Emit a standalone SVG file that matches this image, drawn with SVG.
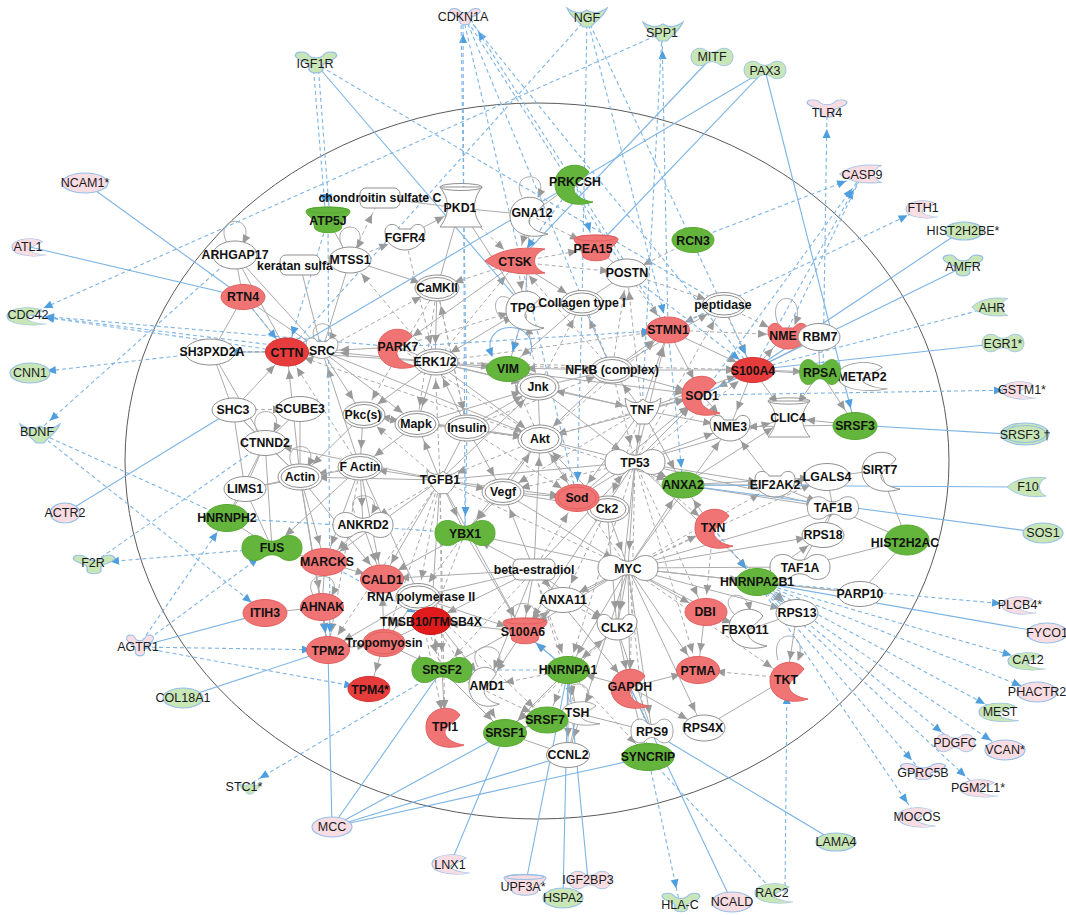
<svg xmlns="http://www.w3.org/2000/svg" width="1066" height="915" viewBox="0 0 1066 915">
<style>
.g,.gd,.gn,.gl,.b,.ba,.bd,.bdn,.bl{fill:none}
.g,.gd,.gn,.gl{stroke:#ababab;stroke-width:1}
.g,.gd{marker-end:url(#ga)}
.gl{marker-end:url(#gla)}
.gd{stroke-dasharray:4 3}
.b,.ba,.bd,.bdn,.bl{stroke:#7db4e4;stroke-width:1.1}
.ba,.bd{marker-end:url(#ba)}
.bl{marker-end:url(#bla)}
.bd,.bdn{stroke-dasharray:4 3}
.w{fill:#fff;stroke:#8f8f8f;stroke-width:1}
.r{fill:#f17474;stroke:#e26060;stroke-width:1}
.R{fill:#e73c3c;stroke:#d63030;stroke-width:1}
.RR{fill:#e11b1b;stroke:#cc1010;stroke-width:1}
.G{fill:#63b53b;stroke:#57a832;stroke-width:1}
.pk{fill:#fadde3;stroke:#96bfe8;stroke-width:1.2}
.lg{fill:#c8e6b6;stroke:#96bfe8;stroke-width:1.2}
.t{font-family:"Liberation Sans",Arial,sans-serif;font-size:12.3px;font-weight:bold;fill:#111;stroke:none;text-anchor:middle}
.o{font-family:"Liberation Sans",Arial,sans-serif;font-size:12.5px;fill:#1a1a1a;stroke:none;text-anchor:middle}
</style>
<defs>
<marker id="ga" markerUnits="userSpaceOnUse" markerWidth="10" markerHeight="8" refX="27" refY="4" orient="auto" overflow="visible"><path d="M0,0L9,4L0,8Z" fill="#9a9a9a"/></marker>
<marker id="gla" markerUnits="userSpaceOnUse" markerWidth="10" markerHeight="8" refX="8" refY="4" orient="auto" overflow="visible"><path d="M0,0L9,4L0,8Z" fill="#9a9a9a"/></marker>
<marker id="ba" markerUnits="userSpaceOnUse" markerWidth="10" markerHeight="8" refX="26" refY="4" orient="auto" overflow="visible"><path d="M0,0L9,4L0,8Z" fill="#4f9ede"/></marker>
<marker id="bla" markerUnits="userSpaceOnUse" markerWidth="10" markerHeight="8" refX="8" refY="4" orient="auto" overflow="visible"><path d="M0,0L9,4L0,8Z" fill="#4f9ede"/></marker>
<path id="pn" d="M-8,-9C-14,-15-30,-14-30,0C-30,14-14,15-8,9C-3,6 3,6 8,9C14,15 30,14 30,0C30,-14 14,-15 8,-9C3,-6-3,-6-8,-9Z"/>
<path id="enz" d="M14,-12C6,-24-20,-20-20,0C-20,18 0,24 18,18C4,16-4,8 0,2C2,-2 8,-4 14,-12Z"/>
<path id="pep" d="M-32,0C-20,-10 0,-15 28,-12C14,-7 14,7 28,12C0,15-20,10-32,0Z"/>
<g id="cup"><path d="M-22,-9C-22,-14 22,-14 22,-9C22,-5 16,-3 15,1L13,9C8,14-8,14-13,9L-15,1C-16,-3-22,-5-22,-9Z"/><ellipse cx="0" cy="-10" rx="20" ry="3" fill="none"/></g>
<g id="hg"><path d="M-21,-20L21,-20C11,-7 11,7 21,20L-21,20C-11,7-11,-7-21,-20Z"/><ellipse cx="0" cy="-20" rx="21" ry="3.5" fill="none"/></g>
<path id="kin" d="M-20,-5C-20,-14-9,-15-6,-8L6,-8C9,-15 20,-14 20,-5C20,6 10,13 0,13C-10,13-20,6-20,-5Z"/>
<path id="cyt" d="M-18,-13C-10,-7-5,-7 0,-12C5,-7 10,-7 18,-13C17,0 10,9 5,13L-5,13C-10,9-17,0-18,-13Z"/>
<path id="rec" d="M-18,-8C-18,-13-9,-14-6,-8C-3,-5 3,-5 6,-8C9,-14 18,-13 18,-8C16,-2 8,-2 6,2L6,8C4,12-4,12-6,8L-6,2C-8,-2-16,-2-18,-8Z"/>
<path id="gf" d="M-20,-9C-12,-3-6,-3 0,-7C6,-3 12,-3 20,-9C16,1 8,4 4,10L-4,10C-8,4-16,1-20,-9Z"/>
</defs>
<rect width="1066" height="915" fill="#fff"/>
<ellipse cx="537" cy="461" rx="412" ry="358" fill="none" stroke="#5a5a5a" stroke-width="1"/>
<g id="connectors">
<path class="g" d="M540 439L635 462"/><path class="gd" d="M628 568L540 439"/><path class="gd" d="M540 439L440 480"/><path class="g" d="M435 362L540 439"/><path class="g" d="M612 370L540 439"/><path class="gd" d="M417 424L540 439"/><path class="g" d="M467 428L540 439"/><path class="g" d="M503 492L540 439"/><path class="gd" d="M642 410L540 439"/><path class="g" d="M540 439L702 395"/><path class="gd" d="M540 439L668 330"/><path class="gd" d="M540 439L398 347"/><path class="g" d="M322 351L540 439"/><path class="gd" d="M540 439L287 352"/><path class="g" d="M540 439L465 533"/><path class="gd" d="M540 439L683 485"/><path class="g" d="M607 509L540 439"/><path class="g" d="M363 415L540 439"/><path class="gd" d="M540 439L508 368"/><path class="gn" d="M538 387L540 439"/><path class="g" d="M534 570L540 439"/><path class="g" d="M540 439L577 498"/>
<path class="g" d="M635 462L628 568"/><path class="g" d="M642 410L635 462"/><path class="g" d="M635 462L683 485"/><path class="gd" d="M635 462L713 528"/><path class="g" d="M635 462L775 485"/><path class="g" d="M635 462L730 427"/><path class="g" d="M635 462L788 418"/><path class="gd" d="M635 462L753 370"/><path class="g" d="M635 462L702 395"/><path class="gd" d="M635 462L705 612"/><path class="gd" d="M635 462L698 670"/><path class="g" d="M635 462L797 613"/><path class="gd" d="M635 462L630 687"/><path class="g" d="M635 462L617 628"/><path class="gd" d="M635 462L568 670"/><path class="g" d="M534 570L635 462"/><path class="gd" d="M635 462L503 492"/><path class="g" d="M440 480L635 462"/><path class="g" d="M538 387L635 462"/><path class="gd" d="M612 370L635 462"/><path class="g" d="M635 462L668 330"/><path class="gn" d="M577 498L635 462"/><path class="g" d="M635 462L523 632"/><path class="g" d="M635 462L833 508"/><path class="gd" d="M635 462L723 305"/>
<path class="g" d="M628 568L563 600"/><path class="g" d="M628 568L617 628"/><path class="g" d="M628 568L705 612"/><path class="g" d="M628 568L698 670"/><path class="gd" d="M628 568L787 678"/><path class="g" d="M628 568L757 582"/><path class="g" d="M628 568L823 535"/><path class="g" d="M628 568L652 732"/><path class="gd" d="M628 568L648 757"/><path class="g" d="M628 568L630 687"/><path class="gn" d="M628 568L833 508"/><path class="g" d="M628 568L800 567"/><path class="g" d="M628 568L568 670"/><path class="gn" d="M628 568L748 630"/><path class="g" d="M628 568L683 485"/><path class="gd" d="M628 568L713 528"/><path class="g" d="M628 568L730 427"/><path class="gd" d="M628 568L827 477"/><path class="g" d="M628 568L568 755"/><path class="g" d="M628 568L703 728"/><path class="g" d="M628 568L523 632"/><path class="g" d="M628 568L797 613"/><path class="gd" d="M628 568L775 485"/><path class="gn" d="M628 568L442 670"/><path class="g" d="M628 568L465 533"/><path class="g" d="M503 492L628 568"/><path class="gd" d="M440 480L628 568"/><path class="g" d="M607 509L628 568"/><path class="gn" d="M628 568L860 593"/>
<path class="g" d="M440 480L465 533"/><path class="gd" d="M440 480L363 525"/><path class="g" d="M440 480L360 467"/><path class="g" d="M440 480L503 492"/><path class="g" d="M440 480L382 579"/><path class="gd" d="M440 480L418 597"/><path class="g" d="M440 480L431 621"/><path class="g" d="M440 480L325 562"/><path class="gd" d="M440 480L328 650"/><path class="g" d="M440 480L265 443"/><path class="gd" d="M440 480L363 415"/><path class="g" d="M440 480L417 424"/><path class="g" d="M440 480L300 477"/><path class="g" d="M440 480L523 632"/><path class="gd" d="M440 480L384 643"/><path class="g" d="M440 480L577 498"/><path class="g" d="M440 480L538 387"/><path class="gd" d="M440 480L435 362"/><path class="gn" d="M467 428L440 480"/><path class="gd" d="M440 480L442 670"/><path class="gd" d="M440 480L445 727"/>
<path class="g" d="M534 570L523 632"/><path class="g" d="M534 570L563 600"/><path class="g" d="M534 570L617 628"/><path class="g" d="M534 570L465 533"/><path class="g" d="M534 570L431 621"/><path class="gd" d="M534 570L568 670"/><path class="g" d="M534 570L630 687"/><path class="g" d="M534 570L382 579"/><path class="gd" d="M534 570L442 670"/><path class="g" d="M534 570L487 686"/><path class="g" d="M534 570L503 492"/><path class="gd" d="M534 570L577 498"/><path class="gd" d="M534 570L577 713"/><path class="gn" d="M534 570L418 597"/>
<path class="g" d="M418 597L328 650"/><path class="gd" d="M418 597L442 670"/><path class="gd" d="M418 597L505 733"/><path class="g" d="M418 597L487 686"/><path class="g" d="M418 597L384 643"/><path class="gd" d="M418 597L547 720"/><path class="gd" d="M418 597L445 727"/><path class="g" d="M418 597L523 632"/>
<path class="g" d="M435 362L322 351"/><path class="gn" d="M435 362L398 347"/><path class="g" d="M435 362L417 424"/><path class="g" d="M435 362L363 415"/><path class="g" d="M437 288L435 362"/><path class="gd" d="M435 362L350 260"/><path class="g" d="M435 362L508 368"/><path class="g" d="M435 362L538 387"/><path class="gd" d="M435 362L612 370"/><path class="g" d="M467 428L435 362"/><path class="gd" d="M405 237L435 362"/><path class="g" d="M435 362L287 352"/><path class="gd" d="M435 362L668 330"/><path class="gd" d="M435 362L517 262"/><path class="g" d="M435 362L642 410"/><path class="gd" d="M435 362L753 370"/><path class="g" d="M435 362L702 395"/>
<path class="g" d="M642 410L612 370"/><path class="gn" d="M538 387L612 370"/><path class="g" d="M612 370L508 368"/><path class="g" d="M612 370L668 330"/><path class="g" d="M612 370L702 395"/><path class="gd" d="M467 428L612 370"/><path class="g" d="M612 370L753 370"/><path class="gd" d="M612 370L627 273"/><path class="g" d="M612 370L723 305"/><path class="g" d="M612 370L582 303"/><path class="gd" d="M612 370L517 262"/>
<path class="gn" d="M467 428L417 424"/><path class="g" d="M467 428L503 492"/><path class="g" d="M467 428L363 415"/><path class="g" d="M467 428L538 387"/><path class="gd" d="M467 428L577 498"/><path class="gd" d="M467 428L437 288"/>
<path class="gn" d="M538 387L508 368"/><path class="g" d="M417 424L538 387"/><path class="g" d="M642 410L538 387"/><path class="gd" d="M538 387L525 308"/><path class="gd" d="M538 387L582 303"/>
<path class="g" d="M642 410L702 395"/><path class="g" d="M642 410L730 427"/><path class="g" d="M642 410L668 330"/><path class="g" d="M642 410L577 498"/><path class="gd" d="M642 410L607 509"/><path class="gd" d="M642 410L627 273"/><path class="g" d="M642 410L753 370"/><path class="gd" d="M642 410L503 492"/><path class="g" d="M642 410L683 485"/>
<path class="gd" d="M360 467L300 477"/><path class="g" d="M360 467L363 525"/><path class="g" d="M360 467L382 579"/><path class="g" d="M360 467L325 562"/><path class="gd" d="M360 467L328 650"/><path class="g" d="M360 467L272 548"/><path class="gn" d="M360 467L245 489"/><path class="g" d="M360 467L431 621"/><path class="g" d="M363 415L360 467"/><path class="g" d="M417 424L360 467"/><path class="gd" d="M360 467L287 352"/><path class="g" d="M360 467L322 351"/>
<path class="gn" d="M300 477L265 443"/><path class="gn" d="M300 477L245 489"/><path class="gn" d="M300 477L233 410"/><path class="gn" d="M300 477L300 409"/><path class="g" d="M300 477L322 607"/><path class="g" d="M300 477L328 650"/><path class="g" d="M300 477L325 562"/><path class="g" d="M300 477L382 579"/><path class="g" d="M300 477L287 352"/>
<path class="gn" d="M265 443L233 410"/><path class="gn" d="M265 443L212 352"/><path class="gn" d="M265 443L245 489"/><path class="gn" d="M265 443L227 518"/><path class="gn" d="M265 443L272 548"/><path class="gn" d="M265 443L300 409"/><path class="gd" d="M233 410L300 409"/><path class="gn" d="M233 410L212 352"/><path class="gn" d="M233 410L245 489"/><path class="g" d="M233 410L287 352"/>
<path class="gn" d="M322 351L287 352"/><path class="gd" d="M322 351L212 352"/><path class="g" d="M398 347L322 351"/><path class="gn" d="M322 351L350 260"/><path class="gn" d="M322 351L235 255"/><path class="gn" d="M322 351L243 297"/><path class="gn" d="M322 351L300 265"/><path class="g" d="M322 351L363 415"/><path class="g" d="M322 351L417 424"/><path class="gd" d="M322 351L437 288"/>
<path class="gn" d="M243 297L235 255"/><path class="gn" d="M243 297L287 352"/><path class="gn" d="M243 297L212 352"/><path class="gn" d="M287 352L212 352"/><path class="gn" d="M287 352L235 255"/>
<path class="gn" d="M350 260L300 265"/><path class="gn" d="M350 260L328 220"/><path class="gd" d="M350 260L405 237"/><path class="gd" d="M350 260L380 198"/><path class="g" d="M350 260L437 288"/>
<path class="gn" d="M460 208L530 215"/><path class="gn" d="M460 208L380 198"/><path class="g" d="M405 237L460 208"/><path class="gd" d="M460 208L517 262"/><path class="gn" d="M460 208L437 288"/><path class="gn" d="M460 208L525 308"/>
<path class="gn" d="M530 215L575 182"/><path class="gd" d="M530 215L517 262"/><path class="gn" d="M530 215L525 308"/><path class="gd" d="M530 215L595 248"/>
<path class="gd" d="M517 262L525 308"/><path class="gd" d="M517 262L595 248"/><path class="g" d="M517 262L582 303"/><path class="gd" d="M517 262L627 273"/><path class="gd" d="M517 262L437 288"/><path class="g" d="M517 262L398 347"/>
<path class="gn" d="M627 273L582 303"/><path class="gd" d="M627 273L668 330"/><path class="gn" d="M595 248L627 273"/><path class="gd" d="M693 240L627 273"/><path class="gd" d="M627 273L723 305"/><path class="gd" d="M723 305L668 330"/><path class="gd" d="M723 305L785 335"/><path class="gd" d="M723 305L753 370"/><path class="g" d="M668 330L753 370"/><path class="gd" d="M668 330L785 335"/><path class="g" d="M668 330L702 395"/>
<path class="g" d="M753 370L785 335"/><path class="g" d="M753 370L820 372"/><path class="gn" d="M753 370L818 337"/><path class="g" d="M753 370L702 395"/><path class="g" d="M753 370L862 377"/><path class="g" d="M753 370L730 427"/><path class="g" d="M753 370L788 418"/>
<path class="gn" d="M820 372L862 377"/><path class="gn" d="M820 372L818 337"/><path class="g" d="M820 372L855 425"/><path class="g" d="M820 372L788 418"/><path class="g" d="M855 425L788 418"/><path class="g" d="M855 425L730 427"/>
<path class="g" d="M827 477L775 485"/><path class="gn" d="M827 477L880 470"/><path class="gn" d="M827 477L833 508"/><path class="gn" d="M880 470L907 540"/><path class="gn" d="M833 508L907 540"/><path class="gn" d="M833 508L800 567"/><path class="g" d="M833 508L823 535"/><path class="gn" d="M907 540L860 593"/><path class="gn" d="M907 540L800 567"/>
<path class="g" d="M757 582L797 613"/><path class="gn" d="M757 582L800 567"/><path class="gn" d="M757 582L860 593"/><path class="gd" d="M713 528L757 582"/><path class="g" d="M757 582L823 535"/><path class="g" d="M713 528L683 485"/><path class="gd" d="M713 528L705 612"/>
<path class="g" d="M705 612L698 670"/><path class="gd" d="M705 612L748 630"/><path class="gn" d="M797 613L748 630"/><path class="g" d="M797 613L787 678"/><path class="gd" d="M787 678L698 670"/><path class="gn" d="M787 678L703 728"/>
<path class="g" d="M630 687L568 670"/><path class="gn" d="M630 687L652 732"/><path class="g" d="M630 687L703 728"/><path class="g" d="M630 687L698 670"/><path class="g" d="M617 628L630 687"/><path class="gn" d="M630 687L648 757"/>
<path class="gd" d="M568 670L617 628"/><path class="g" d="M568 670L523 632"/><path class="g" d="M568 670L577 713"/><path class="g" d="M568 670L568 755"/><path class="gd" d="M568 670L547 720"/><path class="g" d="M568 670L505 733"/><path class="gd" d="M568 670L487 686"/><path class="gd" d="M568 670L648 757"/>
<path class="g" d="M442 670L487 686"/><path class="g" d="M442 670L445 727"/><path class="g" d="M442 670L505 733"/><path class="gd" d="M442 670L431 621"/><path class="g" d="M384 643L442 670"/><path class="gd" d="M442 670L547 720"/><path class="gn" d="M505 733L547 720"/><path class="gn" d="M505 733L577 713"/><path class="gn" d="M505 733L568 755"/><path class="gn" d="M577 713L547 720"/><path class="gn" d="M577 713L568 755"/><path class="gn" d="M577 713L652 732"/>
<path class="g" d="M523 632L431 621"/><path class="g" d="M523 632L563 600"/><path class="g" d="M523 632L487 686"/>
<path class="g" d="M328 650L384 643"/><path class="g" d="M322 607L328 650"/><path class="g" d="M384 643L370 689"/><path class="gn" d="M384 643L431 621"/><path class="g" d="M384 643L382 579"/><path class="gn" d="M322 607L325 562"/><path class="gn" d="M322 607L265 613"/><path class="g" d="M325 562L382 579"/><path class="gn" d="M325 562L272 548"/><path class="gn" d="M272 548L227 518"/><path class="gn" d="M272 548L245 489"/><path class="gn" d="M227 518L245 489"/>
<path class="g" d="M465 533L382 579"/><path class="gd" d="M465 533L418 597"/><path class="g" d="M465 533L523 632"/><path class="gd" d="M465 533L431 621"/>
<path class="gn" d="M577 498L607 509"/><path class="g" d="M577 498L702 395"/><path class="g" d="M503 492L577 498"/><path class="g" d="M503 492L607 509"/><path class="g" d="M503 492L465 533"/><path class="g" d="M363 415L417 424"/><path class="g" d="M363 415L300 477"/><path class="gd" d="M437 288L363 415"/><path class="gd" d="M437 288L417 424"/><path class="gd" d="M437 288L467 428"/><path class="gn" d="M582 303L525 308"/><path class="g" d="M582 303L508 368"/><path class="g" d="M525 308L508 368"/><path class="g" d="M525 308L435 362"/><path class="gd" d="M398 347L525 308"/><path class="g" d="M702 395L730 427"/><path class="g" d="M363 525L382 579"/><path class="g" d="M363 525L325 562"/><path class="gd" d="M607 509L563 600"/><path class="g" d="M607 509L617 628"/><path class="gn" d="M563 600L523 632"/><path class="gd" d="M563 600L617 628"/><path class="g" d="M617 628L568 670"/><path class="gd" d="M617 628L505 733"/><path class="gn" d="M617 628L652 732"/><path class="g" d="M683 485L775 485"/><path class="g" d="M683 485L827 477"/><path class="g" d="M683 485L788 418"/><path class="gn" d="M683 485L833 508"/><path class="g" d="M775 485L833 508"/><path class="g" d="M775 485L730 427"/>
<path class="gl" d="M227 243C212 214 258 214 243 243"/><path class="gl" d="M343 248C328 220 372 220 357 248"/><path class="gl" d="M522 197C508 170 552 170 538 197"/><path class="gl" d="M512 300C490 285 490 325 512 318"/><path class="gl" d="M778 324C765 290 808 290 795 324"/><path class="gl" d="M735 615C715 595 745 585 750 610"/><path class="gl" d="M778 660C768 628 810 628 798 660"/><path class="gl" d="M570 702C558 678 598 678 586 702"/><path class="gl" d="M478 667C462 640 512 640 497 667"/><path class="gl" d="M292 466C280 440 322 440 308 466"/><path class="gl" d="M355 513C342 490 385 490 372 513"/><path class="gl" d="M513 620C500 598 545 598 533 620"/><path class="gl" d="M257 431C245 405 287 405 274 431"/><path class="gl" d="M315 341C305 318 340 318 330 341"/><path class="gl" d="M313 595C300 570 345 570 332 595"/>
<path class="b" d="M85 183L243 297"/><path class="b" d="M30 247L243 297"/><path class="bd" d="M287 352L28 315"/><path class="bd" d="M322 351L28 315"/><path class="bd" d="M398 347L28 315"/><path class="bd" d="M212 352L30 373"/><path class="bd" d="M235 255L37 432"/><path class="bdn" d="M37 432L227 518"/><path class="bd" d="M37 432L265 613"/><path class="b" d="M65 513L233 410"/><path class="bd" d="M272 548L93 563"/><path class="bdn" d="M265 443L93 563"/><path class="bd" d="M138 647L227 518"/><path class="bd" d="M138 647L272 548"/><path class="bd" d="M138 647L328 650"/><path class="bd" d="M138 647L370 689"/><path class="b" d="M138 647L265 613"/><path class="b" d="M183 698L328 650"/><path class="bd" d="M442 670L245 787"/>
<path class="b" d="M332 827L328 650"/><path class="b" d="M332 827L442 670"/><path class="b" d="M332 827L505 733"/><path class="b" d="M332 827L568 755"/><path class="b" d="M332 827L648 757"/><path class="b" d="M450 865L505 733"/><path class="b" d="M525 887L568 670"/><path class="b" d="M563 898L568 670"/><path class="b" d="M588 880L568 670"/><path class="bd" d="M648 757L680 905"/><path class="b" d="M732 902L630 687"/><path class="bdn" d="M775 893L648 757"/><path class="bd" d="M785 893L787 678"/><path class="b" d="M836 842L652 732"/>
<path class="bd" d="M757 582L1018 605"/><path class="b" d="M757 582L1047 633"/><path class="bd" d="M757 582L1028 660"/><path class="bd" d="M757 582L1037 692"/><path class="bd" d="M757 582L1000 712"/><path class="bd" d="M757 582L1005 750"/><path class="bd" d="M757 582L955 743"/><path class="bd" d="M757 582L923 773"/><path class="bd" d="M757 582L978 788"/><path class="bd" d="M757 582L917 817"/>
<path class="b" d="M683 485L1043 533"/><path class="b" d="M683 485L1028 487"/><path class="b" d="M855 425L1025 435"/><path class="bd" d="M702 395L1020 390"/><path class="b" d="M1003 343L753 370"/><path class="bdn" d="M992 307L753 370"/><path class="b" d="M963 267L702 395"/><path class="b" d="M963 230L753 370"/><path class="bd" d="M668 330L923 208"/><path class="bd" d="M693 240L862 175"/><path class="bd" d="M753 370L862 175"/><path class="bdn" d="M785 335L862 175"/><path class="bd" d="M702 395L862 175"/><path class="bd" d="M823 372L827 112"/>
<path class="ba" d="M765 70L855 425"/><path class="b" d="M765 70L287 352"/><path class="b" d="M765 70L595 248"/><path class="b" d="M712 57L517 262"/><path class="bd" d="M668 330L662 33"/><path class="bdn" d="M642 410L662 33"/><path class="bd" d="M662 33L28 315"/><path class="bdn" d="M587 18L582 303"/><path class="bd" d="M587 18L668 330"/><path class="bdn" d="M587 18L287 352"/><path class="bd" d="M587 18L753 370"/>
<path class="bd" d="M465 533L463 17"/><path class="bdn" d="M467 428L461 17"/><path class="bd" d="M668 330L469 17"/><path class="bdn" d="M612 370L465 17"/><path class="bdn" d="M627 273L465 17"/><path class="bdn" d="M577 498L463 17"/><path class="bdn" d="M753 370L467 17"/>
<path class="bd" d="M313 63L326 220"/><path class="bd" d="M318 63L330 220"/><path class="b" d="M315 63L525 308"/><path class="bdn" d="M315 63L723 305"/><path class="bd" d="M328 220L330 650"/><path class="bd" d="M328 220L287 352"/>
<path class="bd" d="M582 303L577 498"/><path class="bd" d="M467 428L465 533"/><path class="bd" d="M713 528L757 582"/><path class="ba" d="M568 670L523 632"/><path class="bdn" d="M442 670L568 670"/><path class="bd" d="M575 182L595 248"/><path class="bd" d="M575 182L517 262"/><path class="bd" d="M398 347L668 330"/><path class="bd" d="M627 273L753 370"/><path class="bd" d="M525 308L508 368"/><path class="bd" d="M243 297L287 352"/><path class="bd" d="M287 352L212 352"/><path class="bd" d="M325 562L431 621"/><path class="bd" d="M668 330L683 485"/><path class="bd" d="M227 518L465 533"/><path class="bd" d="M322 607L328 650"/>
<path class="bl" d="M530 356C542 318 478 318 492 356"/>
</g>
<g id="nodes">
<g id="n-chondroitin" class="w"><rect x="360" y="188" width="40" height="20" rx="6"/><text class="t" x="380" y="202">chondroitin sulfate C</text></g>
<g id="n-atp5j" class="G"><use href="#cup" transform="translate(328,220)"/><text class="t" x="328" y="225">ATP5J</text></g>
<g id="n-pkd1" class="w"><use href="#hg" transform="translate(461,207)"/><text class="t" x="460" y="212">PKD1</text></g>
<g id="n-fgfr4" class="w"><use href="#kin" transform="translate(405,237)"/><text class="t" x="405" y="242">FGFR4</text></g>
<g id="n-arhgap17" class="w"><ellipse cx="235" cy="255" rx="22" ry="14"/><text class="t" x="235" y="259">ARHGAP17</text></g>
<g id="n-keratan" class="w"><rect x="280" y="255" width="40" height="20" rx="6"/><text class="t" x="295" y="270">keratan sulfa</text></g>
<g id="n-mtss1" class="w"><ellipse cx="350" cy="260" rx="21" ry="13"/><text class="t" x="350" y="264">MTSS1</text></g>
<g id="n-prkcsh" class="G"><use href="#enz" transform="translate(575,184)"/><text class="t" x="575" y="186">PRKCSH</text></g>
<g id="n-gna12" class="w"><use href="#enz" transform="translate(530,216)"/><text class="t" x="532" y="217">GNA12</text></g>
<g id="n-ctsk" class="r"><use href="#pep" transform="translate(517,261)"/><text class="t" x="515" y="266">CTSK</text></g>
<g id="n-pea15" class="r"><use href="#cup" transform="translate(596,248)"/><text class="t" x="593" y="253">PEA15</text></g>
<g id="n-rcn3" class="G"><ellipse cx="693" cy="240" rx="21" ry="12.5"/><text class="t" x="693" y="245">RCN3</text></g>
<g id="n-postn" class="w"><ellipse cx="627" cy="273" rx="21" ry="14"/><text class="t" x="627" y="277">POSTN</text></g>
<g id="n-camkii" class="w"><ellipse cx="437" cy="288" rx="22" ry="13"/><ellipse cx="437" cy="288" rx="19" ry="10.5" fill="none"/><text class="t" x="437" y="292">CaMKII</text></g>
<g id="n-rtn4" class="r"><ellipse cx="243" cy="297" rx="22" ry="12.5"/><text class="t" x="243" y="301">RTN4</text></g>
<g id="n-tpo" class="w"><use href="#enz" transform="translate(526,310)"/><text class="t" x="523" y="312">TPO</text></g>
<g id="n-collagen" class="w"><ellipse cx="582" cy="303" rx="21" ry="12.5"/><ellipse cx="582" cy="303" rx="18" ry="10" fill="none"/><text class="t" x="582" y="307">Collagen type I</text></g>
<g id="n-peptidase" class="w"><ellipse cx="724" cy="305" rx="22" ry="12.5"/><ellipse cx="724" cy="305" rx="19" ry="10" fill="none"/><text class="t" x="723" y="309">peptidase</text></g>
<g id="n-stmn1" class="r"><ellipse cx="668" cy="330" rx="21.5" ry="13"/><text class="t" x="668" y="334">STMN1</text></g>
<g id="n-nme" class="r"><use href="#kin" transform="translate(788,336)"/><text class="t" x="783" y="340">NME</text></g>
<g id="n-rbm7" class="w"><ellipse cx="819" cy="337" rx="21" ry="13.5"/><text class="t" x="820" y="341">RBM7</text></g>
<g id="n-src" class="w"><use href="#kin" transform="translate(322,348) scale(0.8)"/><text class="t" x="322" y="355">SRC</text></g>
<g id="n-sh3pxd2a" class="w"><ellipse cx="210" cy="352" rx="25" ry="13"/><text class="t" x="212" y="356">SH3PXD2A</text></g>
<g id="n-cttn" class="R"><ellipse cx="287" cy="352" rx="21.5" ry="14"/><text class="t" x="287" y="357">CTTN</text></g>
<g id="n-park7" class="r"><use href="#enz" transform="translate(398,348)"/><text class="t" x="398" y="351">PARK7</text></g>
<g id="n-erk" class="w"><ellipse cx="436" cy="362" rx="22" ry="13"/><ellipse cx="436" cy="362" rx="19" ry="10.5" fill="none"/><text class="t" x="435" y="366">ERK1/2</text></g>
<g id="n-vim" class="G"><ellipse cx="508" cy="369" rx="21.5" ry="12.5"/><text class="t" x="508" y="373">VIM</text></g>
<g id="n-nfkb" class="w"><ellipse cx="612" cy="370" rx="21" ry="13"/><ellipse cx="612" cy="370" rx="18" ry="10.5" fill="none"/><text class="t" x="612" y="374">NFkB (complex)</text></g>
<g id="n-s100a4" class="R"><ellipse cx="753" cy="370" rx="21.5" ry="12.5"/><text class="t" x="753" y="375">S100A4</text></g>
<g id="n-metap2" class="w"><use href="#enz" transform="translate(864,376) scale(1.3,0.72)"/><text class="t" x="862" y="381">METAP2</text></g>
<g id="n-rpsa" class="G"><use href="#pn" transform="translate(820,372) scale(0.68,1)"/><text class="t" x="820" y="377">RPSA</text></g>
<g id="n-jnk" class="w"><ellipse cx="538" cy="387" rx="21" ry="13"/><ellipse cx="538" cy="387" rx="18" ry="10.5" fill="none"/><text class="t" x="538" y="391">Jnk</text></g>
<g id="n-sod1" class="r"><use href="#enz" transform="translate(702,395)"/><text class="t" x="702" y="400">SOD1</text></g>
<g id="n-tnf" class="w"><use href="#cyt" transform="translate(643,411)"/><text class="t" x="642" y="414">TNF</text></g>
<g id="n-clic4" class="w"><use href="#hg" transform="translate(789,419) scale(1,0.9)"/><text class="t" x="788" y="422">CLIC4</text></g>
<g id="n-nme3" class="w"><use href="#kin" transform="translate(730,428)"/><text class="t" x="730" y="431">NME3</text></g>
<g id="n-srsf3" class="G"><ellipse cx="855" cy="426" rx="22" ry="13.5"/><text class="t" x="855" y="430">SRSF3</text></g>
<g id="n-shc3" class="w"><ellipse cx="234" cy="410" rx="22" ry="12"/><text class="t" x="233" y="414">SHC3</text></g>
<g id="n-scube3" class="w"><ellipse cx="300" cy="409" rx="23" ry="12.5"/><text class="t" x="300" y="413">SCUBE3</text></g>
<g id="n-pkc" class="w"><ellipse cx="364" cy="415" rx="21" ry="13"/><ellipse cx="364" cy="415" rx="18" ry="10.5" fill="none"/><text class="t" x="363" y="419">Pkc(s)</text></g>
<g id="n-mapk" class="w"><ellipse cx="417" cy="424" rx="22" ry="13"/><ellipse cx="417" cy="424" rx="19" ry="10.5" fill="none"/><text class="t" x="416" y="428">Mapk</text></g>
<g id="n-insulin" class="w"><ellipse cx="467" cy="428" rx="22" ry="13"/><ellipse cx="467" cy="428" rx="19" ry="10.5" fill="none"/><text class="t" x="467" y="432">Insulin</text></g>
<g id="n-akt" class="w"><ellipse cx="540" cy="439" rx="22" ry="14"/><ellipse cx="540" cy="439" rx="19" ry="11.5" fill="none"/><text class="t" x="540" y="443">Akt</text></g>
<g id="n-ctnnd2" class="w"><ellipse cx="265" cy="443" rx="22" ry="12.5"/><text class="t" x="265" y="447">CTNND2</text></g>
<g id="n-tp53" class="w"><use href="#pn" transform="translate(635,462)"/><text class="t" x="635" y="467">TP53</text></g>
<g id="n-factin" class="w"><ellipse cx="360" cy="467" rx="22" ry="13"/><ellipse cx="360" cy="467" rx="19" ry="10.5" fill="none"/><text class="t" x="360" y="471">F Actin</text></g>
<g id="n-actin" class="w"><ellipse cx="300" cy="477" rx="22" ry="13"/><ellipse cx="300" cy="477" rx="19" ry="10.5" fill="none"/><text class="t" x="300" y="481">Actin</text></g>
<g id="n-tgfb1" class="w"><use href="#cyt" transform="translate(443,482) scale(0.9)"/><text class="t" x="440" y="484">TGFB1</text></g>
<g id="n-sirt7" class="w"><use href="#enz" transform="translate(882,471)"/><text class="t" x="880" y="474">SIRT7</text></g>
<g id="n-lgals4" class="w"><ellipse cx="827" cy="477" rx="23" ry="13.5"/><text class="t" x="827" y="481">LGALS4</text></g>
<g id="n-eif2ak2" class="w"><use href="#kin" transform="translate(775,484)"/><text class="t" x="775" y="489">EIF2AK2</text></g>
<g id="n-anxa2" class="G"><ellipse cx="683" cy="485" rx="21" ry="13"/><text class="t" x="683" y="489">ANXA2</text></g>
<g id="n-lims1" class="w"><ellipse cx="245" cy="489" rx="21" ry="12.5"/><text class="t" x="245" y="493">LIMS1</text></g>
<g id="n-vegf" class="w"><ellipse cx="503" cy="492" rx="21" ry="13"/><ellipse cx="503" cy="492" rx="18" ry="10.5" fill="none"/><text class="t" x="503" y="496">Vegf</text></g>
<g id="n-ck2" class="w"><ellipse cx="608" cy="509" rx="21" ry="13"/><ellipse cx="608" cy="509" rx="18" ry="10.5" fill="none"/><text class="t" x="607" y="513">Ck2</text></g>
<g id="n-sod" class="r"><ellipse cx="577" cy="498" rx="22" ry="13.5"/><ellipse cx="577" cy="498" rx="19" ry="11" fill="none"/><text class="t" x="577" y="502">Sod</text></g>
<g id="n-taf1b" class="w"><use href="#pn" transform="translate(833,508) scale(0.85,0.9)"/><text class="t" x="833" y="512">TAF1B</text></g>
<g id="n-hnrnph2" class="G"><ellipse cx="227" cy="518" rx="21.5" ry="13.5"/><text class="t" x="227" y="522">HNRNPH2</text></g>
<g id="n-ankrd2" class="w"><use href="#pn" transform="translate(363,525)"/><text class="t" x="363" y="529">ANKRD2</text></g>
<g id="n-ybx1" class="G"><use href="#pn" transform="translate(465,533)"/><text class="t" x="465" y="538">YBX1</text></g>
<g id="n-txn" class="r"><use href="#enz" transform="translate(715,528)"/><text class="t" x="713" y="532">TXN</text></g>
<g id="n-rps18" class="w"><ellipse cx="823" cy="535" rx="21" ry="12.5"/><text class="t" x="823" y="539">RPS18</text></g>
<g id="n-hist2h2ac" class="G"><ellipse cx="907" cy="540" rx="22" ry="15"/><text class="t" x="905" y="547">HIST2H2AC</text></g>
<g id="n-fus" class="G"><use href="#pn" transform="translate(272,548)"/><text class="t" x="272" y="552">FUS</text></g>
<g id="n-marcks" class="r"><ellipse cx="324" cy="562" rx="23" ry="13.5"/><text class="t" x="327" y="566">MARCKS</text></g>
<g id="n-betaestradiol" class="w"><rect x="513" y="559" width="42" height="21" rx="6"/><text class="t" x="534" y="574">beta-estradiol</text></g>
<g id="n-myc" class="w"><use href="#pn" transform="translate(628,568)"/><text class="t" x="628" y="573">MYC</text></g>
<g id="n-taf1a" class="w"><use href="#pn" transform="translate(800,567)"/><text class="t" x="800" y="572">TAF1A</text></g>
<g id="n-cald1" class="r"><ellipse cx="382" cy="579" rx="21.5" ry="14"/><text class="t" x="382" y="584">CALD1</text></g>
<g id="n-rnapol" class="w"><ellipse cx="418" cy="597" rx="22" ry="13.5"/><ellipse cx="418" cy="597" rx="19" ry="11" fill="none"/><text class="t" x="421" y="601">RNA polymerase II</text></g>
<g id="n-anxa11" class="w"><ellipse cx="563" cy="600" rx="22" ry="12.5"/><text class="t" x="563" y="604">ANXA11</text></g>
<g id="n-parp10" class="w"><ellipse cx="860" cy="594" rx="22" ry="12.5"/><text class="t" x="860" y="598">PARP10</text></g>
<g id="n-ahnak" class="r"><ellipse cx="322" cy="607" rx="21.5" ry="13.5"/><text class="t" x="322" y="611">AHNAK</text></g>
<g id="n-itih3" class="r"><ellipse cx="265" cy="613" rx="22" ry="13.5"/><text class="t" x="265" y="617">ITIH3</text></g>
<g id="n-dbi" class="r"><ellipse cx="706" cy="612" rx="21" ry="13.5"/><text class="t" x="705" y="616">DBI</text></g>
<g id="n-rps13" class="w"><ellipse cx="797" cy="613" rx="21" ry="13.5"/><text class="t" x="797" y="617">RPS13</text></g>
<g id="n-tmsb" class="RR"><ellipse cx="431" cy="621" rx="20" ry="13.5"/><text class="t" x="431" y="626">TMSB10/TMSB4X</text></g>
<g id="n-s100a6" class="r"><use href="#cup" transform="translate(525,631)"/><text class="t" x="523" y="636">S100A6</text></g>
<g id="n-clk2" class="w"><use href="#kin" transform="translate(617,627)"/><text class="t" x="617" y="632">CLK2</text></g>
<g id="n-fbxo11" class="w"><use href="#enz" transform="translate(749,628)"/><text class="t" x="745" y="634">FBXO11</text></g>
<g id="n-tpm2" class="r"><ellipse cx="328" cy="650" rx="21.5" ry="13.5"/><text class="t" x="328" y="655">TPM2</text></g>
<g id="n-tropomyosin" class="r"><ellipse cx="384" cy="643" rx="21" ry="13.5"/><ellipse cx="384" cy="643" rx="18" ry="11" fill="none"/><text class="t" x="384" y="647">Tropomyosin</text></g>
<g id="n-srsf2" class="G"><use href="#pn" transform="translate(442,670)"/><text class="t" x="442" y="674">SRSF2</text></g>
<g id="n-hnrnpa1" class="G"><ellipse cx="568" cy="670" rx="21.5" ry="13.5"/><text class="t" x="568" y="674">HNRNPA1</text></g>
<g id="n-ptma" class="r"><ellipse cx="698" cy="670" rx="21.5" ry="13.5"/><text class="t" x="698" y="675">PTMA</text></g>
<g id="n-tkt" class="r"><use href="#enz" transform="translate(790,681)"/><text class="t" x="786" y="684">TKT</text></g>
<g id="n-gapdh" class="r"><use href="#enz" transform="translate(631,688)"/><text class="t" x="630" y="691">GAPDH</text></g>
<g id="n-amd1" class="w"><use href="#enz" transform="translate(485,686) scale(0.8,1)"/><text class="t" x="487" y="690">AMD1</text></g>
<g id="n-tpm4" class="R"><ellipse cx="369" cy="689" rx="21" ry="12.5"/><text class="t" x="370" y="694">TPM4*</text></g>
<g id="n-tsh" class="w"><use href="#enz" transform="translate(582,713) scale(1,0.6)"/><text class="t" x="577" y="717">TSH</text></g>
<g id="n-srsf7" class="G"><ellipse cx="547" cy="720" rx="21" ry="13"/><text class="t" x="545" y="724">SRSF7</text></g>
<g id="n-tpi1" class="r"><use href="#enz" transform="translate(446,727)"/><text class="t" x="445" y="731">TPI1</text></g>
<g id="n-srsf1" class="G"><ellipse cx="505" cy="733" rx="21.5" ry="13.5"/><text class="t" x="505" y="737">SRSF1</text></g>
<g id="n-rps9" class="w"><use href="#pn" transform="translate(652,731) scale(0.7,0.95)"/><text class="t" x="652" y="736">RPS9</text></g>
<g id="n-rps4x" class="w"><ellipse cx="704" cy="728" rx="21" ry="13"/><text class="t" x="703" y="732">RPS4X</text></g>
<g id="n-ccnl2" class="w"><ellipse cx="568" cy="755" rx="21.5" ry="12.5"/><text class="t" x="568" y="759">CCNL2</text></g>
<g id="n-syncrip" class="G"><ellipse cx="648" cy="757" rx="26" ry="13.5"/><text class="t" x="648" y="761">SYNCRIP</text></g>
<g id="n-hnrnpa2b1" class="G"><ellipse cx="757" cy="582" rx="21" ry="13.5"/><text class="t" x="757" y="586">HNRNPA2B1</text></g>
<g id="n-igf1r" class="lg"><use href="#rec" transform="translate(316,63) scale(1.15,0.9)"/><text class="o" x="315" y="68">IGF1R</text></g>
<g id="n-cdkn1a" class="pk"><use href="#rec" transform="translate(465,17) scale(0.85,0.7)"/><text class="o" x="463" y="21">CDKN1A</text></g>
<g id="n-ngf" class="lg"><use href="#gf" transform="translate(587,17)"/><text class="o" x="587" y="22">NGF</text></g>
<g id="n-spp1" class="lg"><use href="#gf" transform="translate(663,31)"/><text class="o" x="662" y="37">SPP1</text></g>
<g id="n-mitf" class="lg"><use href="#pn" transform="translate(712,57) scale(0.7)"/><text class="o" x="712" y="61">MITF</text></g>
<g id="n-pax3" class="lg"><use href="#pn" transform="translate(765,70) scale(0.7)"/><text class="o" x="765" y="75">PAX3</text></g>
<g id="n-tlr4" class="pk"><use href="#rec" transform="translate(827,109) scale(1.1,0.75)"/><text class="o" x="827" y="117">TLR4</text></g>
<g id="n-ncam1" class="pk"><ellipse cx="85" cy="183" rx="23" ry="10"/><text class="o" x="85" y="187">NCAM1*</text></g>
<g id="n-casp9" class="pk"><use href="#pep" transform="translate(862,174) scale(0.7)"/><text class="o" x="862" y="179">CASP9</text></g>
<g id="n-fth1" class="pk"><use href="#enz" transform="translate(923,209) scale(0.85,0.45)"/><text class="o" x="923" y="212">FTH1</text></g>
<g id="n-hist2h2be" class="lg"><ellipse cx="964" cy="231" rx="19" ry="9"/><text class="o" x="963" y="235">HIST2H2BE*</text></g>
<g id="n-atl1" class="pk"><use href="#enz" transform="translate(30,247) scale(0.9,0.45)"/><text class="o" x="28" y="251">ATL1</text></g>
<g id="n-amfr" class="lg"><use href="#rec" transform="translate(963,266) scale(1.1,0.9)"/><text class="o" x="963" y="271">AMFR</text></g>
<g id="n-ahr" class="lg"><use href="#pep" transform="translate(991,307) scale(0.6,0.7)"/><text class="o" x="992" y="312">AHR</text></g>
<g id="n-cdc42" class="lg"><use href="#enz" transform="translate(28,316) scale(1.05,0.45)"/><text class="o" x="28" y="319">CDC42</text></g>
<g id="n-egr1" class="lg"><use href="#pn" transform="translate(1003,343) scale(0.7)"/><text class="o" x="1003" y="348">EGR1*</text></g>
<g id="n-cnn1" class="lg"><ellipse cx="30" cy="373" rx="20" ry="10"/><text class="o" x="30" y="377">CNN1</text></g>
<g id="n-gstm1" class="pk"><use href="#enz" transform="translate(1020,390) scale(0.9,0.45)"/><text class="o" x="1022" y="394">GSTM1*</text></g>
<g id="n-bdnf" class="lg"><use href="#gf" transform="translate(40,433)"/><text class="o" x="37" y="436">BDNF</text></g>
<g id="n-srsf3dag" class="lg"><ellipse cx="1025" cy="434" rx="24" ry="11"/><ellipse cx="1025" cy="434" rx="21" ry="8.5" fill="none"/><text class="o" x="1025" y="439">SRSF3 †</text></g>
<g id="n-f10" class="lg"><use href="#pep" transform="translate(1028,487) scale(0.65,0.75)"/><text class="o" x="1028" y="491">F10</text></g>
<g id="n-actr2" class="pk"><ellipse cx="65" cy="513" rx="15" ry="10"/><text class="o" x="65" y="517">ACTR2</text></g>
<g id="n-sos1" class="lg"><ellipse cx="1043" cy="533" rx="20" ry="10"/><text class="o" x="1043" y="537">SOS1</text></g>
<g id="n-f2r" class="lg"><use href="#rec" transform="translate(94,565) scale(1.15,0.8)"/><text class="o" x="93" y="567">F2R</text></g>
<g id="n-plcb4" class="pk"><use href="#enz" transform="translate(1020,605) scale(0.9,0.45)"/><text class="o" x="1020" y="609">PLCB4*</text></g>
<g id="n-fyco1" class="pk"><ellipse cx="1047" cy="633" rx="20" ry="10"/><text class="o" x="1047" y="637">FYCO1</text></g>
<g id="n-agtr1" class="pk"><use href="#rec" transform="translate(140,646) scale(0.75,0.9)"/><text class="o" x="138" y="651">AGTR1</text></g>
<g id="n-ca12" class="lg"><use href="#enz" transform="translate(1028,661) scale(1,0.45)"/><text class="o" x="1028" y="664">CA12</text></g>
<g id="n-phactr2" class="pk"><ellipse cx="1037" cy="692" rx="20" ry="10"/><text class="o" x="1037" y="696">PHACTR2</text></g>
<g id="n-col18a1" class="lg"><ellipse cx="183" cy="698" rx="20" ry="10"/><text class="o" x="183" y="702">COL18A1</text></g>
<g id="n-mest" class="lg"><use href="#enz" transform="translate(1000,712) scale(1.05,0.48)"/><text class="o" x="1000" y="716">MEST</text></g>
<g id="n-pdgfc" class="pk"><use href="#pn" transform="translate(955,743) scale(0.65,0.7)"/><text class="o" x="955" y="747">PDGFC</text></g>
<g id="n-vcan" class="pk"><ellipse cx="1005" cy="750" rx="20" ry="10"/><text class="o" x="1005" y="754">VCAN*</text></g>
<g id="n-gprc5b" class="pk"><use href="#rec" transform="translate(923,772) scale(1.25,0.7)"/><text class="o" x="923" y="777">GPRC5B</text></g>
<g id="n-stc1" class="lg"><use href="#gf" transform="translate(250,788) scale(0.6)"/><text class="o" x="244" y="791">STC1*</text></g>
<g id="n-pgm2l1" class="pk"><use href="#enz" transform="translate(980,788) scale(1,0.45)"/><text class="o" x="978" y="792">PGM2L1*</text></g>
<g id="n-mocos" class="pk"><use href="#enz" transform="translate(918,817) scale(1,0.5)"/><text class="o" x="917" y="821">MOCOS</text></g>
<g id="n-mcc" class="pk"><ellipse cx="332" cy="827" rx="20" ry="10"/><text class="o" x="332" y="831">MCC</text></g>
<g id="n-lama4" class="lg"><ellipse cx="836" cy="842" rx="20" ry="9"/><text class="o" x="836" y="846">LAMA4</text></g>
<g id="n-lnx1" class="pk"><use href="#enz" transform="translate(452,864) scale(1,0.5)"/><text class="o" x="450" y="869">LNX1</text></g>
<g id="n-upf3a" class="pk"><use href="#cup" transform="translate(525,885) scale(0.95,0.8)"/><text class="o" x="523" y="891">UPF3A*</text></g>
<g id="n-igf2bp3" class="pk"><use href="#pn" transform="translate(590,880) scale(0.7)"/><text class="o" x="588" y="884">IGF2BP3</text></g>
<g id="n-hspa2" class="lg"><ellipse cx="563" cy="898" rx="20" ry="10"/><text class="o" x="563" y="902">HSPA2</text></g>
<g id="n-hlac" class="lg"><use href="#rec" transform="translate(681,903) scale(1.05,0.8)"/><text class="o" x="680" y="909">HLA-C</text></g>
<g id="n-ncald" class="pk"><ellipse cx="732" cy="902" rx="20" ry="10"/><text class="o" x="732" y="906">NCALD</text></g>
<g id="n-rac2" class="lg"><use href="#enz" transform="translate(775,893) scale(1,0.5)"/><text class="o" x="772" y="897">RAC2</text></g>
</g>
</svg>
